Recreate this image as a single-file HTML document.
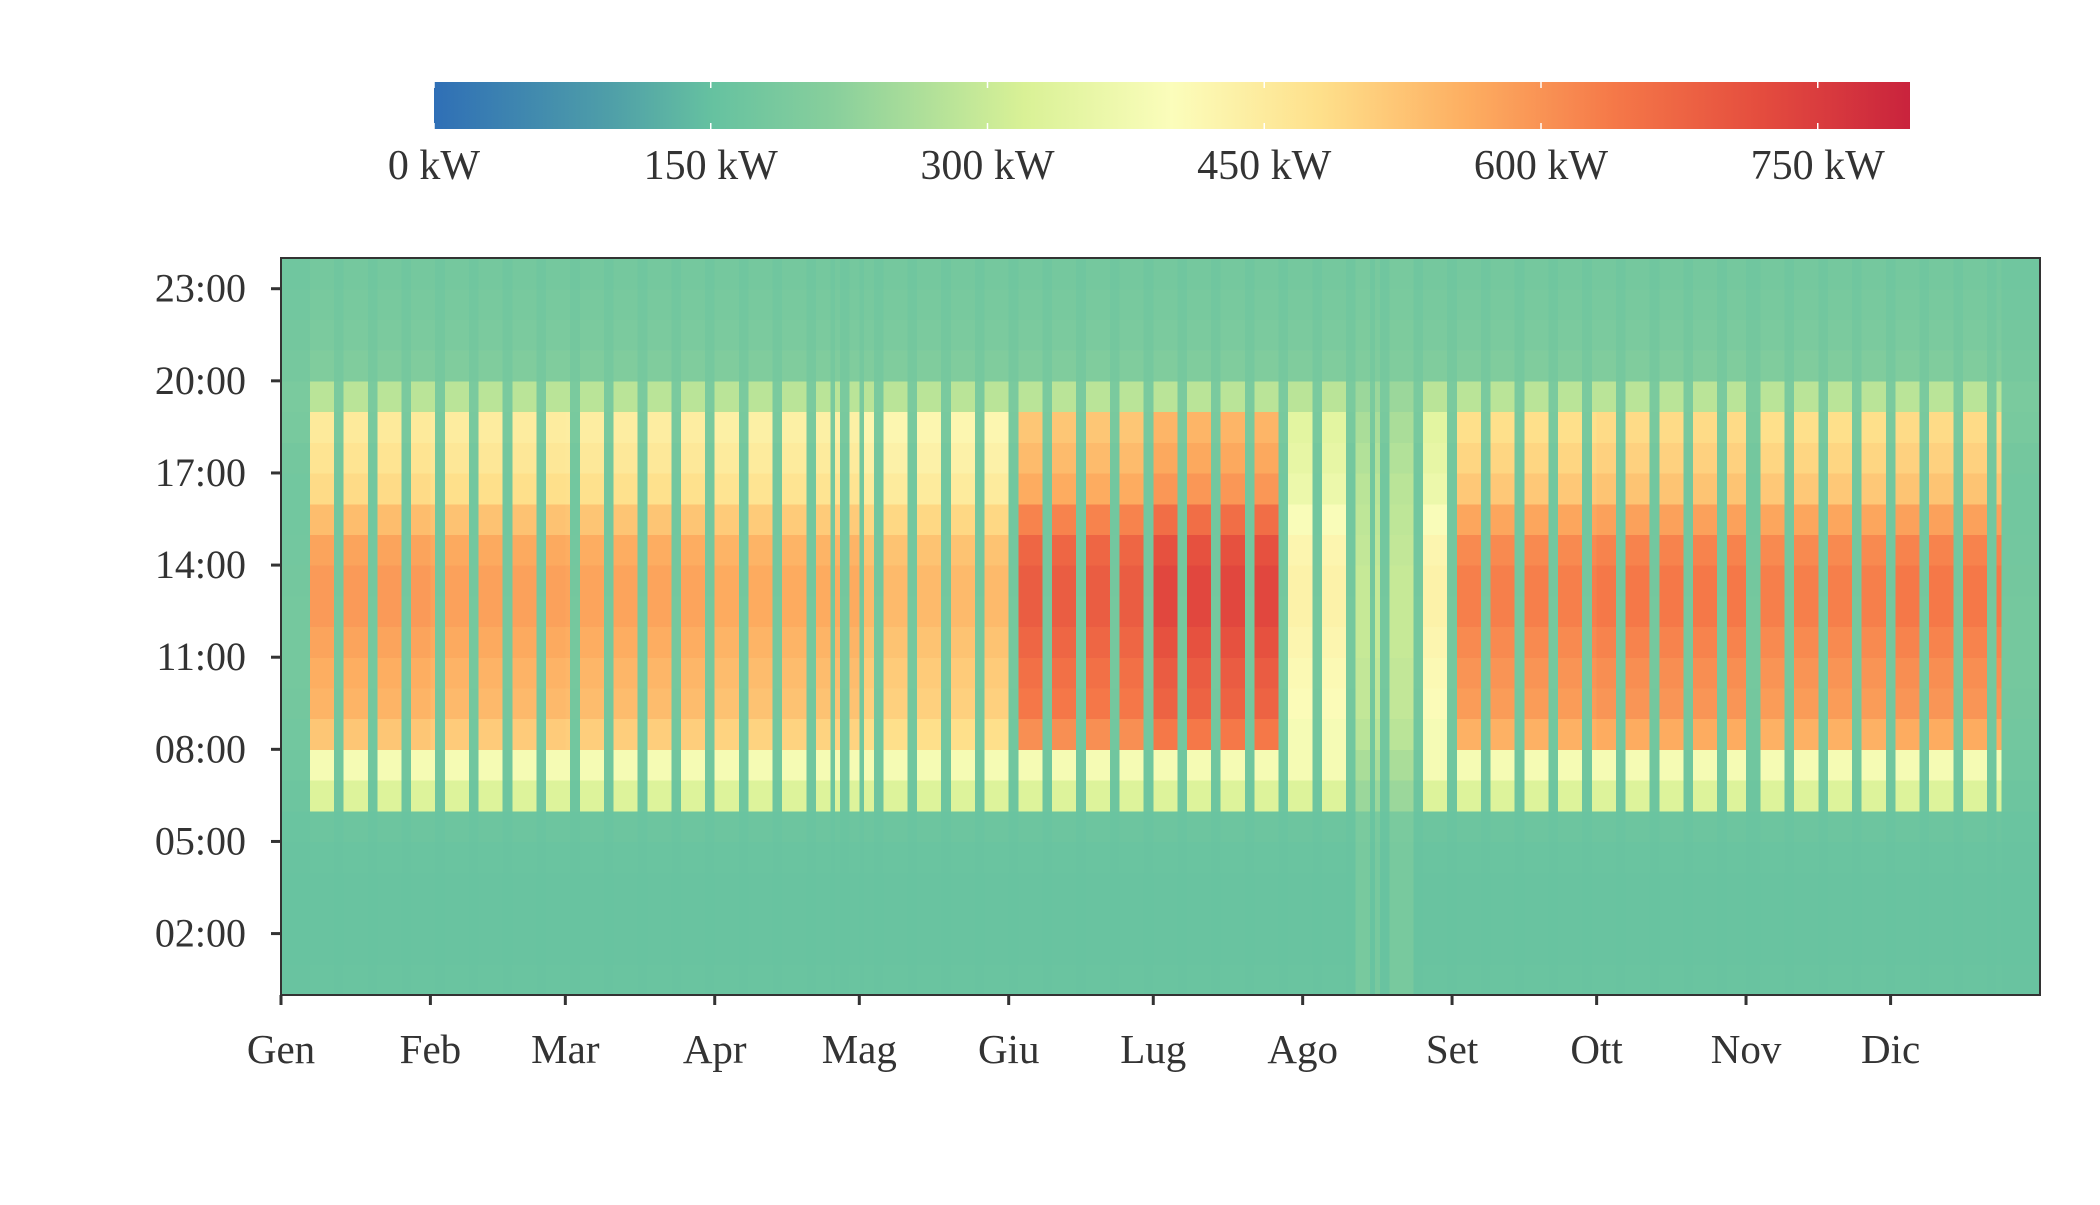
<!DOCTYPE html>
<html><head><meta charset="utf-8">
<style>
html,body{margin:0;padding:0;background:#fff;}
body{width:2100px;height:1200px;overflow:hidden;font-family:"Liberation Serif",serif;}
svg text{font-family:"Liberation Serif",serif;fill:#333;}
</style></head>
<body>
<svg id="chart" width="2100" height="1200" viewBox="0 0 2100 1200" xmlns="http://www.w3.org/2000/svg">
<defs>
<linearGradient id="cbgrad" x1="0" x2="1" y1="0" y2="0"></linearGradient>
</defs>
<g id="colorbar"></g>
<g id="cells" shape-rendering="crispEdges"></g>
<g id="axes"></g>
</svg>
<script>
// ---- data ----
const monthLabels = ["Gen","Feb","Mar","Apr","Mag","Giu","Lug","Ago","Set","Ott","Nov","Dic"];
const monthDays = [31,28,31,30,31,30,31,31,30,31,30,31];
const monthPeak = [590,580,575,565,540,690,730,430,630,640,630,640];
const periodStarts = [207];
const periodEnds = [220];
const periodPeaks = [430];
const hourTicks = [2,5,8,11,14,17,20,23];
const hourTickLabels = ["02:00","05:00","08:00","11:00","14:00","17:00","20:00","23:00"];
const colorTicks = [0,150,300,450,600,750];
const colorTickLabels = ["0 kW","150 kW","300 kW","450 kW","600 kW","750 kW"];
const weekdayProfile = [160,158,158,158,160,165,330,385,530,560,570,585,600,600,585,545,495,475,460,280,200,192,186,180];
const weekendProfile = [158,156,156,156,158,160,165,170,175,178,180,180,180,178,176,175,175,178,185,190,182,178,175,170];
const startWeekday = 2; // Jan 1 = Tuesday
const holidays = [0,1,2,3,110,114,120,152,226,304,341,357,358,359,360,361,362,363,364];
const lowPeriodStart = 221, lowPeriodEnd = 236;
const lowPeriodProfile = [185,185,185,185,185,190,240,260,280,290,290,295,295,295,290,285,280,270,260,240,200,195,190,185];

// ---- geometry ----
const NS="http://www.w3.org/2000/svg";
const L=281,R=2040,T=258,B=995;
const vmax=800;
const xDay=d=>L+d*(R-L)/365;
const yHour=h=>B-h*(B-T)/24;
const cbL=434,cbR=1910,cbT=82,cbB=129;
const xCol=v=>cbL+v/vmax*(cbR-cbL);

const stops=[[0,"#2f6fb6"],[0.12,"#4f9fa8"],[0.19,"#66c2a0"],[0.27,"#88cf9c"],[0.4,"#d9f196"],[0.5,"#fbfdbb"],[0.6,"#fee08b"],[0.7,"#fdae61"],[0.8,"#f57848"],[0.9,"#e44c3e"],[1,"#c9233d"]];
function hex(h){return [parseInt(h.slice(1,3),16),parseInt(h.slice(3,5),16),parseInt(h.slice(5,7),16)];}
function color(v){
  let t=Math.max(0,Math.min(1,v/vmax));
  for(let i=1;i<stops.length;i++){
    if(t<=stops[i][0]){
      const a=stops[i-1],b=stops[i];const f=(t-a[0])/(b[0]-a[0]);
      const ca=hex(a[1]),cb=hex(b[1]);
      return `rgb(${Math.round(ca[0]+(cb[0]-ca[0])*f)},${Math.round(ca[1]+(cb[1]-ca[1])*f)},${Math.round(ca[2]+(cb[2]-ca[2])*f)})`;
    }
  }
  return stops[stops.length-1][1];
}
function mk(tag,attrs,parent){const e=document.createElementNS(NS,tag);for(const k in attrs)e.setAttribute(k,attrs[k]);parent.appendChild(e);return e;}

// colorbar
const grad=document.getElementById('cbgrad');
stops.forEach(s=>mk('stop',{offset:s[0],'stop-color':s[1]},grad));
const cb=document.getElementById('colorbar');
const cbr=mk('rect',{x:cbL,y:cbT,width:cbR-cbL,height:cbB-cbT,fill:'url(#cbgrad)'},cb);


colorTicks.forEach((v,i)=>{
  const x=xCol(v);
  const t1=mk('line',{x1:x,x2:x,y1:cbT,y2:cbT+6,stroke:'#fff','stroke-width':1.5},cb);
  
  
  const t2=mk('line',{x1:x,x2:x,y1:cbB-6,y2:cbB,stroke:'#fff','stroke-width':1.5},cb);
  
  
  const tx=mk('text',{x:x,y:179,'text-anchor':'middle','font-size':42},cb);
  tx.textContent=colorTickLabels[i];
  
  
});

// cells
const cells=document.getElementById('cells');
let monthStart=[];{let s=0;monthDays.forEach(m=>{monthStart.push(s);s+=m;});}
function monthOf(d){let m=0;while(m<11&&d>=monthStart[m+1])m++;return m;}
function peakOf(d){
  for(let i=0;i<periodStarts.length;i++) if(d>=periodStarts[i]&&d<=periodEnds[i]) return periodPeaks[i];
  return monthPeak[monthOf(d)];
}
const cw=(R-L)/365, ch=(B-T)/24;
for(let d=0;d<365;d++){
  const wd=(startWeekday+d)%7;
  const weekend=(wd===0||wd===6);
  const hol=holidays.includes(d);
  const low=d>=lowPeriodStart&&d<=lowPeriodEnd;
  const peak=peakOf(d);
  for(let h=0;h<24;h++){
    let v;
    if(weekend||hol) v=weekendProfile[h];
    else if(low) v=lowPeriodProfile[h];
    else{
      const p=weekdayProfile[h];
      v=(h>=8&&h<=18)? 160+(p-160)*(peak-160)/(600-160) : p;
    }
    const r=mk('rect',{x:xDay(d).toFixed(2),y:(yHour(h+1)).toFixed(2),width:(cw+0.6).toFixed(2),height:(ch+0.6).toFixed(2),fill:color(v)},cells);
    
    
  }
}

// axes
const ax=document.getElementById('axes');
const frame=mk('rect',{x:L,y:T,width:R-L,height:B-T,fill:'none',stroke:'#333','stroke-width':2},ax);


hourTicks.forEach((h,i)=>{
  const y=yHour(h);
  const t=mk('line',{x1:L-10,x2:L,y1:y,y2:y,stroke:'#333','stroke-width':3},ax);
  
  
  const tx=mk('text',{x:L-35,y:y+13,'text-anchor':'end','font-size':40},ax);
  tx.textContent=hourTickLabels[i];
  
  
});
monthLabels.forEach((m,i)=>{
  const x=xDay(monthStart[i]);
  const t=mk('line',{x1:x,x2:x,y1:B,y2:B+10,stroke:'#333','stroke-width':3},ax);
  
  
  const tx=mk('text',{x:x,y:1063,'text-anchor':'middle','font-size':41},ax);
  tx.textContent=m;
  
  
});
</script>
</body></html>
